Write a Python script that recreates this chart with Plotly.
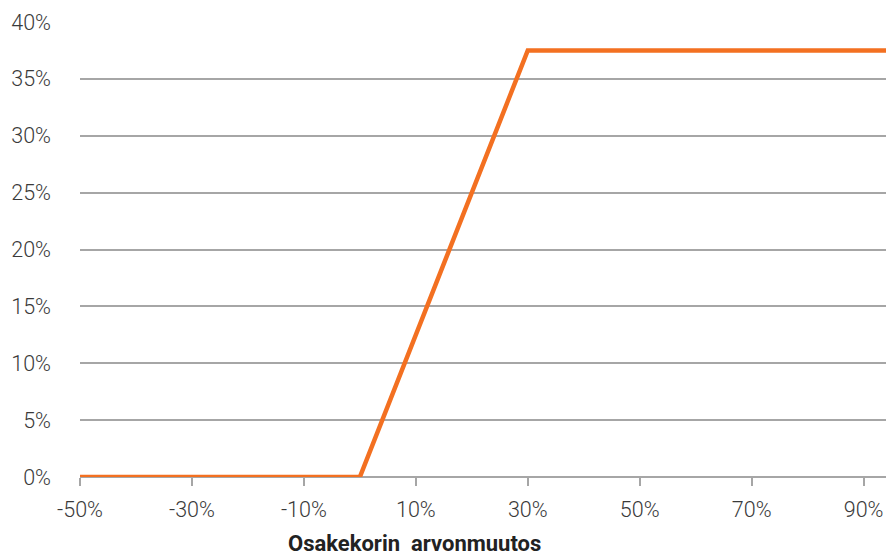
import plotly.graph_objects as go

# Payoff profile: return versus change in the basket value (%)
basket_change = [-50, 0, 30, 95]
payoff = [0, 0, 37.5, 37.5]

x_ticks = [-50, -30, -10, 10, 30, 50, 70, 90]
y_ticks = [0, 5, 10, 15, 20, 25, 30, 35, 40]

tick_font = dict(family="Roboto, DejaVu Sans, sans-serif", size=21.5, color="#3a3a3a", weight=300)

fig = go.Figure()
fig.add_trace(go.Scatter(
    x=basket_change,
    y=payoff,
    mode="lines",
    line=dict(color="#F37021", width=4.5),
    showlegend=False,
    hoverinfo="skip",
))

fig.update_layout(
    width=886,
    height=557,
    margin=dict(l=80, r=0, t=22, b=80),
    paper_bgcolor="white",
    plot_bgcolor="white",
    xaxis=dict(
        range=[-50, 94],
        tickvals=x_ticks,
        ticktext=[f"{v}%" for v in x_ticks],
        tickfont=tick_font,
        showgrid=False,
        zeroline=False,
        showline=False,
        ticks="outside",
        ticklen=8,
        tickwidth=1.5,
        tickcolor="#a6a6a6",
        ticklabelstandoff=5,
    ),
    yaxis=dict(
        range=[0, 40],
        tickvals=y_ticks,
        ticktext=[f"{v}%" for v in y_ticks],
        tickfont=tick_font,
        showgrid=True,
        gridcolor="#a6a6a6",
        gridwidth=1.5,
        zeroline=True,
        zerolinecolor="#a6a6a6",
        zerolinewidth=1.5,
        showline=False,
        ticks="",
        ticklabelstandoff=28,
    ),
    annotations=[dict(
        text="<b>Osakekorin  arvonmuutos</b>",
        xref="paper", yref="paper",
        x=(414 - 80) / 806, y=-66 / 455,
        xanchor="center", yanchor="middle",
        showarrow=False,
        font=dict(family="Roboto, DejaVu Sans, sans-serif", size=22, color="#222222"),
    )],
)

fig.write_html("out.html")
